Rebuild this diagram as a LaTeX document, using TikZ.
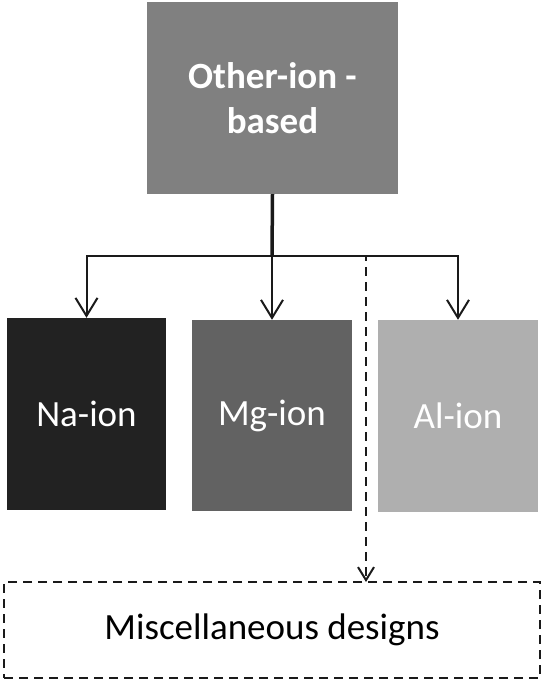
\documentclass[tikz,border=0pt]{standalone}
\usepackage{fontspec}
\setmainfont{Carlito}
\usetikzlibrary{arrows.meta}
\definecolor{topgray}{HTML}{808080}
\definecolor{nagray}{HTML}{222222}
\definecolor{mggray}{HTML}{626262}
\definecolor{algray}{HTML}{AFAFAF}
\definecolor{linecol}{HTML}{1A1A1A}
\tikzset{
  box/.style={rectangle, inner sep=0pt, text=white, font=\fontsize{37}{45}\selectfont, align=center},
  arr/.style={draw=linecol, line width=2pt, -{Straight Barb[length=18pt,width=22pt,line width=2pt]}},
  dasharr/.style={draw=linecol, line width=2pt, dash pattern=on 9pt off 6pt, -{Straight Barb[length=13pt,width=16pt,line width=2pt]}}
}
\begin{document}
\begin{tikzpicture}[x=1pt,y=-1pt]
\useasboundingbox (0,0) rectangle (543,682);
\node[box, fill=topgray, minimum width=251pt, minimum height=192pt, font=\bfseries\fontsize{37}{45}\selectfont] (top) at (272.5,98) {Other-ion -\\based};
\node[box, fill=nagray, minimum width=159pt, minimum height=192pt] (na) at (86.5,414) {Na-ion};
\node[box, fill=mggray, minimum width=160pt, minimum height=191pt] (mg) at (272,415.5) {Mg-ion};
\node[box, fill=algray, minimum width=160pt, minimum height=192pt] (al) at (458,416) {Al-ion};
\node[rectangle, draw=linecol, line width=2pt, dash pattern=on 9pt off 6pt, minimum width=536pt, minimum height=96pt, font=\fontsize{37}{45}\selectfont] (misc) at (272,630) {Miscellaneous designs};
\coordinate (j) at (272,256);
\coordinate (dm) at (366,582);
\draw[linecol, line width=3.5pt] (top.south) -- (j);
\draw[arr] (j) -| (na.north);
\draw[arr] (j) -- (mg.north);
\draw[arr] (j) -| (al.north);
\draw[dasharr] (j) -| (dm);
\end{tikzpicture}
\end{document}
